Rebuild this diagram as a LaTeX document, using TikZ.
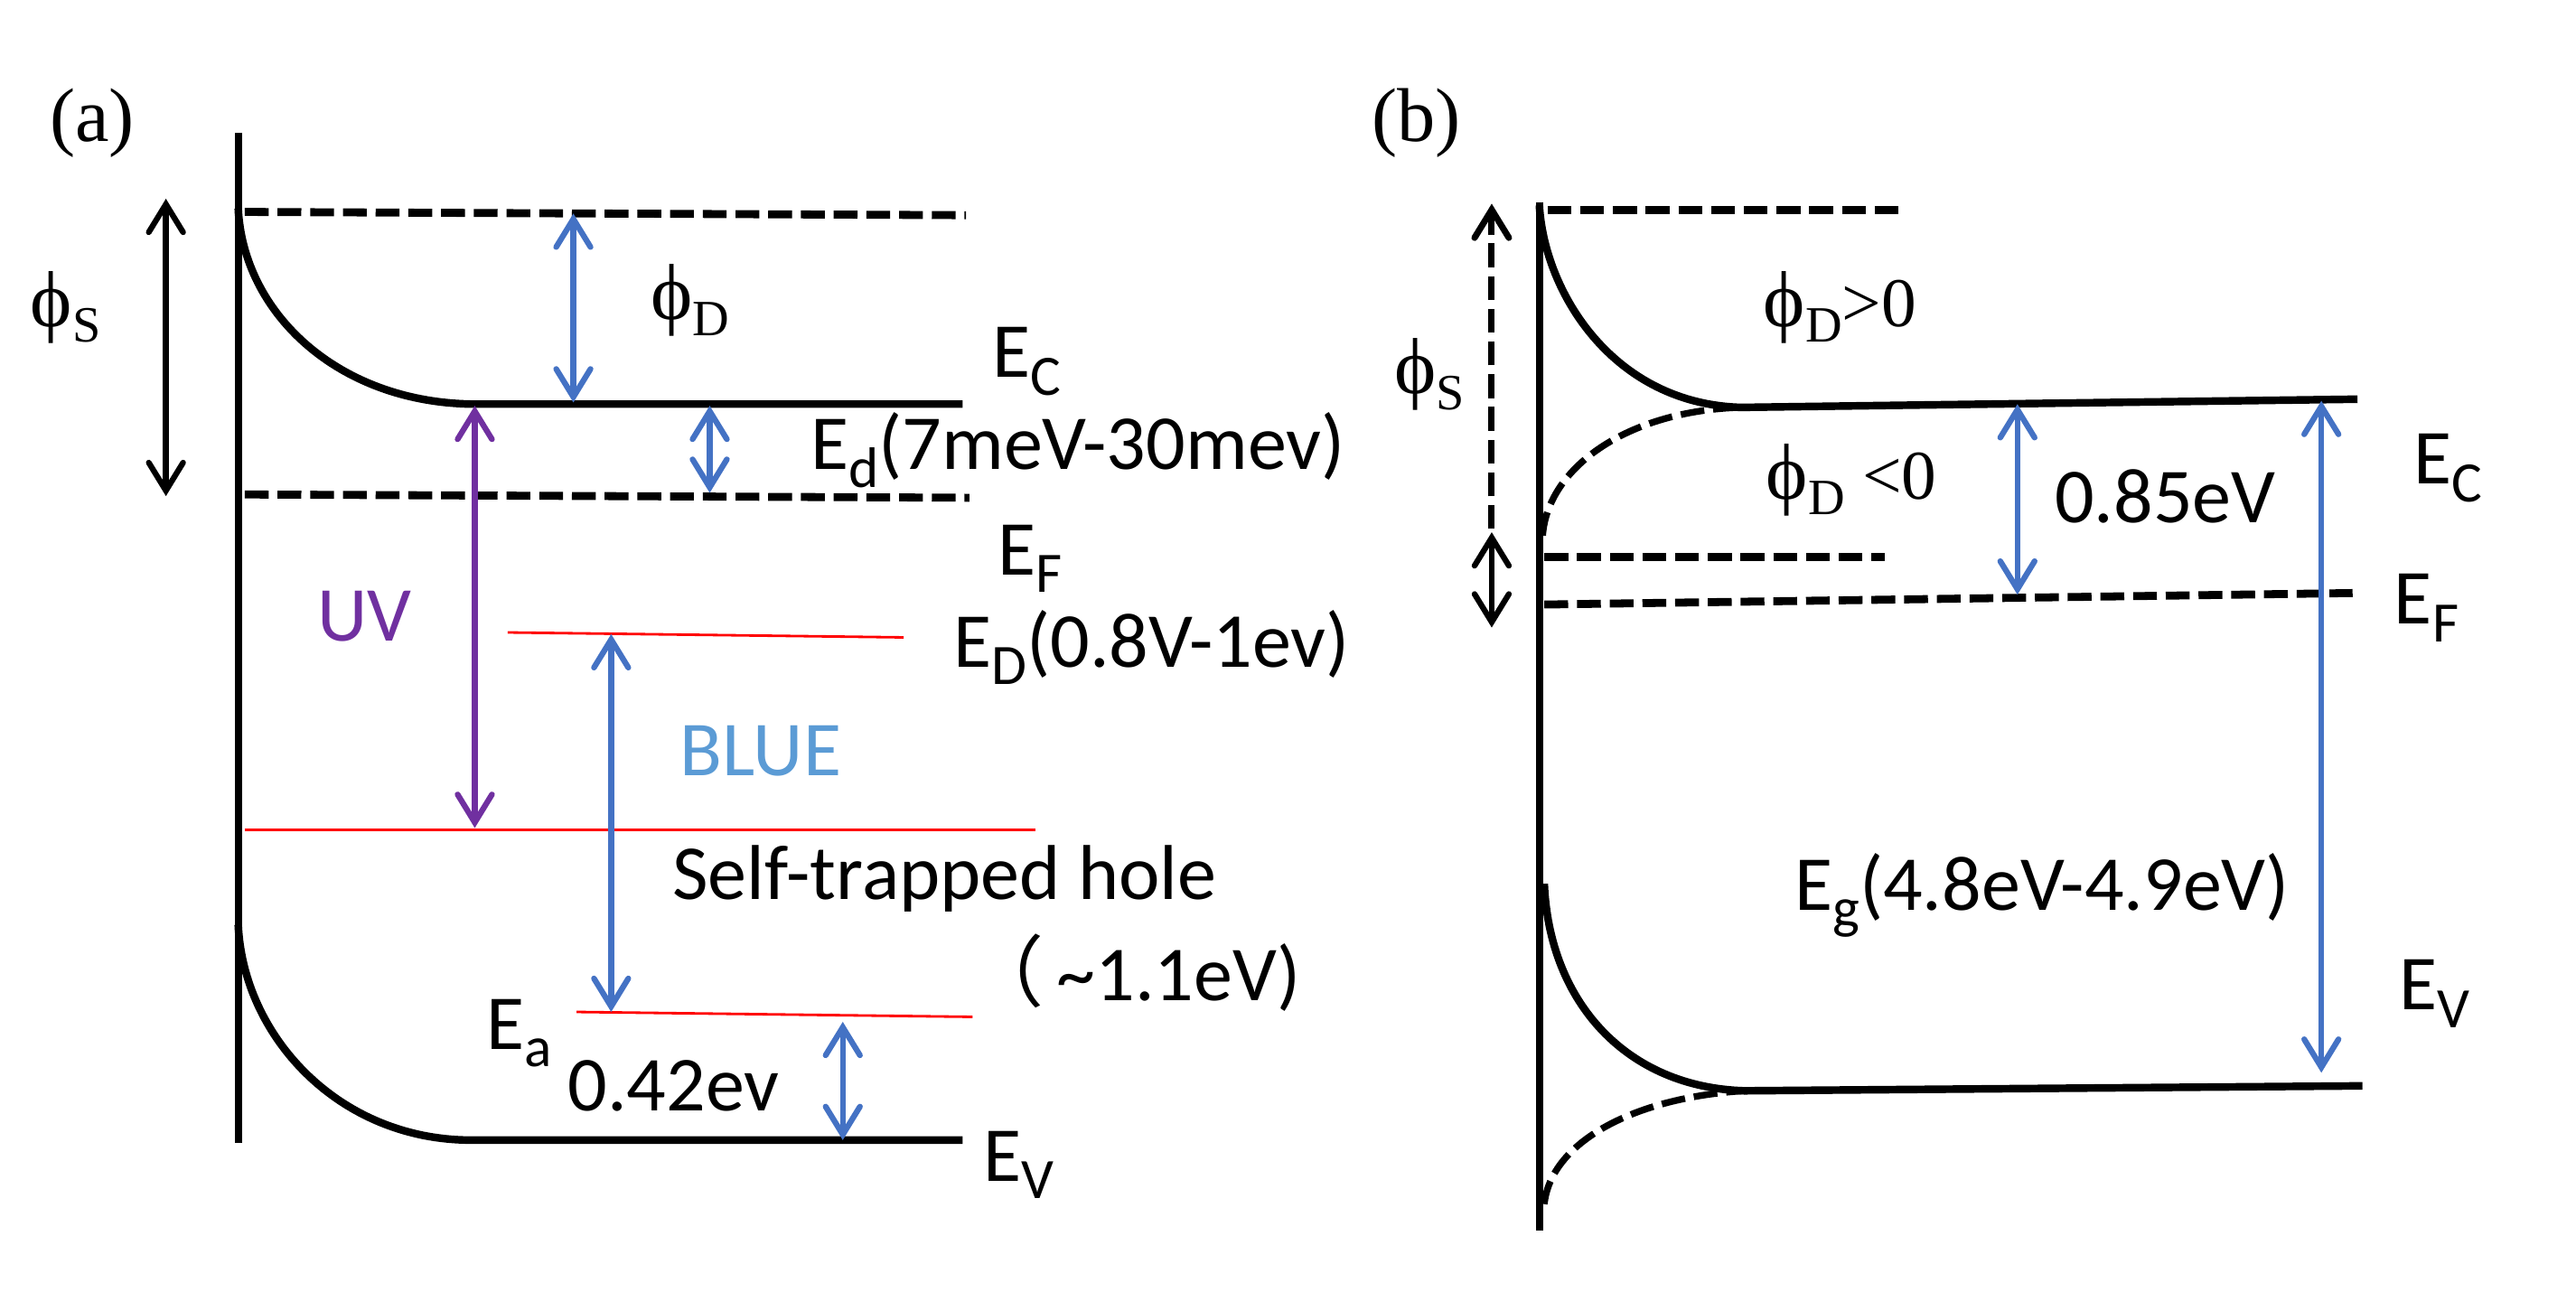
\documentclass[tikz,border=0pt]{standalone}
\usepackage{fontspec}
\setmainfont{Carlito}
\newfontfamily\tms{Liberation Serif}
\newfontfamily\cjk{Noto Sans CJK SC}
\usetikzlibrary{arrows.meta}
\definecolor{arrblue}{RGB}{68,114,196}
\definecolor{lblue}{RGB}{91,155,213}
\definecolor{uvpurple}{RGB}{112,48,160}
\newcommand\lsub[1]{\raisebox{-5.5pt}{\fontsize{18}{18}\selectfont #1}}
\newcommand\phisub[1]{{\tms\fontsize{25}{25}\selectfont ϕ\raisebox{-5pt}{\fontsize{16}{16}\selectfont #1}}}
\begin{document}
\begin{tikzpicture}[x=0.1818mm,y=-0.1818mm,
  band/.style={line width=2.4pt},
  axisline/.style={line width=2.3pt},
  dashband/.style={line width=2.5pt, dash pattern=on 7.5pt off 2.8pt},
  dashcurve/.style={line width=2.1pt, dash pattern=on 7.5pt off 2.8pt},
  redlvl/.style={red, line width=0.8pt},
  barb/.tip={Straight Barb[length=3.1mm,width=3.8mm,line cap=round]},
  dbl/.style={line width=1.8pt, barb-barb},
  blueArr/.style={dbl, arrblue},
  lbl/.style={font=\fontsize{24.5}{28}\selectfont, inner sep=0pt},
  panel/.style={font=\tms\fontsize{24}{27}\selectfont, inner sep=0pt}]
\useasboundingbox (0,0) rectangle (1568,786);
% ---------------- panel (a) ----------------
\coordinate (aAxT) at (145,81);   \coordinate (aAxB) at (145,696);
\coordinate (aTd1) at (149,129);  \coordinate (aTd2) at (588,131);
\coordinate (aCB0) at (145,127);  \coordinate (aCBk) at (288,246); \coordinate (aCB2) at (586,246);
\coordinate (aEF1) at (149,301);  \coordinate (aEF2) at (590,303);
\coordinate (aPs1) at (101,121);  \coordinate (aPs2) at (101,302);
\coordinate (aPd1) at (349,130);  \coordinate (aPd2) at (349,245);
\coordinate (aEd1) at (432,247);  \coordinate (aEd2) at (432,300);
\coordinate (aUV1) at (289,247);  \coordinate (aUV2) at (289,504);
\coordinate (aED1) at (309,385);  \coordinate (aED2) at (550,388);
\coordinate (aBl1) at (372,386);  \coordinate (aBl2) at (372,616);
\coordinate (aST1) at (149,505);  \coordinate (aST2) at (630,505);
\coordinate (aEa1) at (351,616);  \coordinate (aEa2) at (592,619);
\coordinate (aQ1) at (513,622);   \coordinate (aQ2) at (513,694);
\coordinate (aVB0) at (145,563);  \coordinate (aVBk) at (285,694); \coordinate (aVB2) at (586,694);

\draw[axisline] (aAxT) -- (aAxB);
\draw[dashband] (aTd1) -- (aTd2);
\draw[band] (aCB0) .. controls (148,190) and (205,245) .. (aCBk) -- (aCB2);
\draw[dashband] (aEF1) -- (aEF2);
\draw[band] (aVB0) .. controls (148,630) and (205,693) .. (aVBk) -- (aVB2);
\draw[redlvl] (aED1) -- (aED2);
\draw[redlvl] (aST1) -- (aST2);
\draw[redlvl] (aEa1) -- (aEa2);
\draw[dbl] (aPs1) -- (aPs2);
\draw[blueArr] (aPd1) -- (aPd2);
\draw[blueArr] (aEd1) -- (aEd2);
\draw[dbl, uvpurple] (aUV1) -- (aUV2);
\draw[blueArr] (aBl1) -- (aBl2);
\draw[blueArr] (aQ1) -- (aQ2);

\node[panel] (labA) at (56,75) {(a)};
\node[inner sep=0pt] (aPhiS) at (40,187) {\phisub{S}};
\node[inner sep=0pt] (aPhiD) at (420,183) {\phisub{D}};
\node[lbl] (aEC) at (625,220) {E\lsub{C}};
\node[lbl] (aEdL) at (656,274) {E\lsub{d}(7meV-30mev)};
\node[lbl] (aEF) at (627,340) {E\lsub{F}};
\node[lbl, text=uvpurple] (aUV) at (222,375) {UV};
\node[lbl] (aEDL) at (701,394) {E\lsub{D}(0.8V-1ev)};
\node[lbl, text=lblue] (aBLUE) at (463,457) {BLUE};
\node[lbl] (aSTH) at (575,535) {Self-trapped hole};
\node[lbl, anchor=east] (aSTV) at (792,592) {{\cjk （}\hspace{4pt}\string~1.1eV)};
\node[lbl] (aEa) at (316,629) {E\lsub{a}};
\node[lbl] (aQL) at (410,661) {0.42ev};
\node[lbl] (aEV) at (620,709) {E\lsub{V}};

% ---------------- panel (b) ----------------
\coordinate (bAxT) at (937,123);  \coordinate (bAxB) at (937,749);
\coordinate (bTd1) at (942,128);  \coordinate (bTd2) at (1156,128);
\coordinate (bCB0) at (937,125);  \coordinate (bCBk) at (1060,248); \coordinate (bCB2) at (1435,243);
\coordinate (bCD0) at (939,326);
\coordinate (bSd1) at (940,339);  \coordinate (bSd2) at (1147,339);
\coordinate (bEF1) at (940,368);  \coordinate (bEF2) at (1432,361);
\coordinate (bPs1) at (908,124);  \coordinate (bPs2) at (908,322);
\coordinate (bPs3) at (908,324);  \coordinate (bPs4) at (908,382);
\coordinate (bQ1) at (1228,246);  \coordinate (bQ2) at (1228,362);
\coordinate (bG1) at (1413,244);  \coordinate (bG2) at (1413,653);
\coordinate (bVB0) at (940,538);  \coordinate (bVBk) at (1062,664); \coordinate (bVB2) at (1438,661);
\coordinate (bVD0) at (940,733);

\draw[axisline] (bAxT) -- (bAxB);
\draw[dashband] (bTd1) -- (bTd2);
\draw[band] (bCB0) .. controls (940,178) and (982,246) .. (bCBk) -- (bCB2);
\draw[dashcurve] (bCD0) .. controls (942,285) and (990,250) .. (bCBk);
\draw[dashband] (bSd1) -- (bSd2);
\draw[dashband] (bEF1) -- (bEF2);
\draw[band] (bVB0) .. controls (943,610) and (990,662) .. (bVBk) -- (bVB2);
\draw[dashcurve] (bVD0) .. controls (944,695) and (995,668) .. (bVBk);
\draw[line width=2pt, dash pattern=on 7.5pt off 2.8pt, -barb] (bPs2) -- (bPs1);
\draw[dbl] (bPs3) -- (bPs4);
\draw[blueArr] (bQ1) -- (bQ2);
\draw[blueArr] (bG1) -- (bG2);

\node[panel] (labB) at (862,75) {(b)};
\node[inner sep=0pt] (bPhiS) at (870,228) {\phisub{S}};
\node[inner sep=0pt] (bPhiDp) at (1120,187) {\phisub{D}{\tms\fontsize{22}{22}\selectfont >0}};
\node[inner sep=0pt] (bPhiDn) at (1127,292) {\phisub{D}{\tms\fontsize{22}{22}\selectfont\ <0}};
\node[lbl] (bQL) at (1318,302) {0.85eV};
\node[lbl] (bEC) at (1490,285) {E\lsub{C}};
\node[lbl] (bEF) at (1477,370) {E\lsub{F}};
\node[lbl] (bEg) at (1243,545) {E\lsub{g}(4.8eV-4.9eV)};
\node[lbl] (bEV) at (1482,605) {E\lsub{V}};
\end{tikzpicture}
\end{document}
